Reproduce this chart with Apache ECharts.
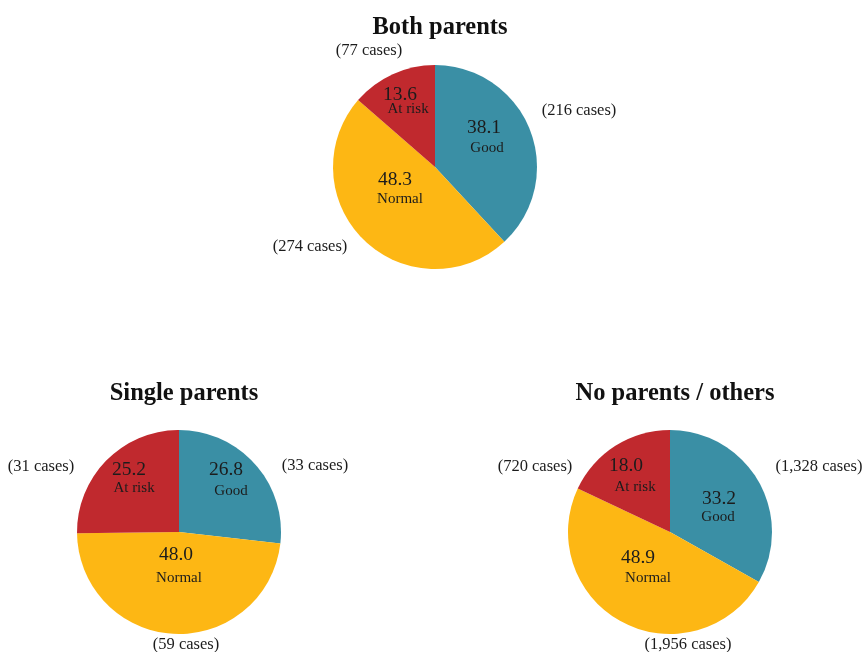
<!DOCTYPE html>
<html>
<head>
<meta charset="utf-8">
<script src="https://cdn.jsdelivr.net/npm/echarts@6/dist/echarts.min.js"></script>
<style>
  html, body { margin: 0; padding: 0; background: #fff; }
  #chart { width: 864px; height: 652px; }
</style>
</head>
<body>
<div id="chart"></div>
<script>
// Slice categories, clockwise from 12 o'clock
const categories = ['Good', 'Normal', 'At risk'];

// Group titles
const groupTitles = ['Both parents', 'Single parents', 'No parents / others'];

// Share of cases (%) per group
const bothPct   = [38.1, 48.3, 13.6];
const singlePct = [26.8, 48.0, 25.2];
const nonePct   = [33.2, 48.9, 18.0];

// Case counts per group
const bothCases   = [216, 274, 77];
const singleCases = [33, 59, 31];
const noneCases   = [1328, 1956, 720];

const pctSets  = [bothPct, singlePct, nonePct];
const caseSets = [bothCases, singleCases, noneCases];

// Layout: pie centres (px), radius, and label offsets from each centre
const RADIUS = 102;
const centers = [[435, 167], [179, 532], [670, 532]];
const titleY = [25, 391, 391];
const valueOffsets = [
  [[49, -39], [-40, 13], [-35, -72]],
  [[47, -62], [-3, 23], [-50, -62]],
  [[49, -33], [-32, 26], [-44, -66]]
];
const nameOffsets = [
  [[52, -19], [-35, 32], [-27, -58]],
  [[52, -41], [0, 46], [-45, -44]],
  [[48, -15], [-22, 46], [-35, -45]]
];
const caseOffsets = [
  [[144, -56], [-125, 80], [-66, -116]],
  [[136, -66], [7, 113], [-138, -65]],
  [[149, -65], [18, 113], [-135, -65]]
];

const colors = ['#3a8fa5', '#fdb714', '#c0292e'];
const FONT = '"Liberation Serif", "DejaVu Serif", serif';
const INK = '#1c1c1c';

const series = [];
const titles = [];

function pieBase(c, data) {
  return {
    type: 'pie',
    center: c,
    radius: RADIUS,
    startAngle: 90,
    clockwise: true,
    silent: true,
    animation: false,
    data: data,
    labelLine: { show: false }
  };
}

// Transparent copy of a pie that only carries one kind of label
function labelLayer(g, data, offsets, formatter, size) {
  const c = centers[g];
  const s = pieBase(c, data);
  s.itemStyle = { color: 'rgba(0,0,0,0)', borderWidth: 0 };
  s.label = {
    show: true,
    position: 'inside',
    overflow: 'none',
    fontFamily: FONT,
    fontSize: size,
    color: INK,
    formatter: formatter
  };
  s.labelLayout = function (p) {
    const o = offsets[g][p.dataIndex];
    return { x: c[0] + o[0], y: c[1] + o[1], align: 'center', verticalAlign: 'middle' };
  };
  return s;
}

pctSets.forEach(function (pcts, g) {
  const c = centers[g];
  const data = categories.map(function (name, i) {
    return { name: name, value: pcts[i], cases: caseSets[g][i] };
  });

  titles.push({
    text: groupTitles[g],
    left: c[0], top: titleY[g] - 15,
    textAlign: 'center',
    textStyle: { fontFamily: FONT, fontSize: 24.5, fontWeight: 'bold', color: '#111' }
  });

  // Coloured slices
  const slices = pieBase(c, data);
  slices.color = colors;
  slices.itemStyle = { borderWidth: 0 };
  slices.label = { show: false };
  series.push(slices);

  // Percentages, category names and case counts
  series.push(labelLayer(g, data, valueOffsets,
    function (p) { return p.value.toFixed(1); }, 19.5));
  series.push(labelLayer(g, data, nameOffsets,
    function (p) { return p.name; }, 15));
  series.push(labelLayer(g, data, caseOffsets,
    function (p) { return '(' + p.data.cases.toLocaleString('en-US') + ' cases)'; }, 16.5));
});

const chart = echarts.init(document.getElementById('chart'), null, { renderer: 'canvas' });
chart.setOption({
  backgroundColor: '#ffffff',
  animation: false,
  title: titles,
  series: series
});
</script>
</body>
</html>
